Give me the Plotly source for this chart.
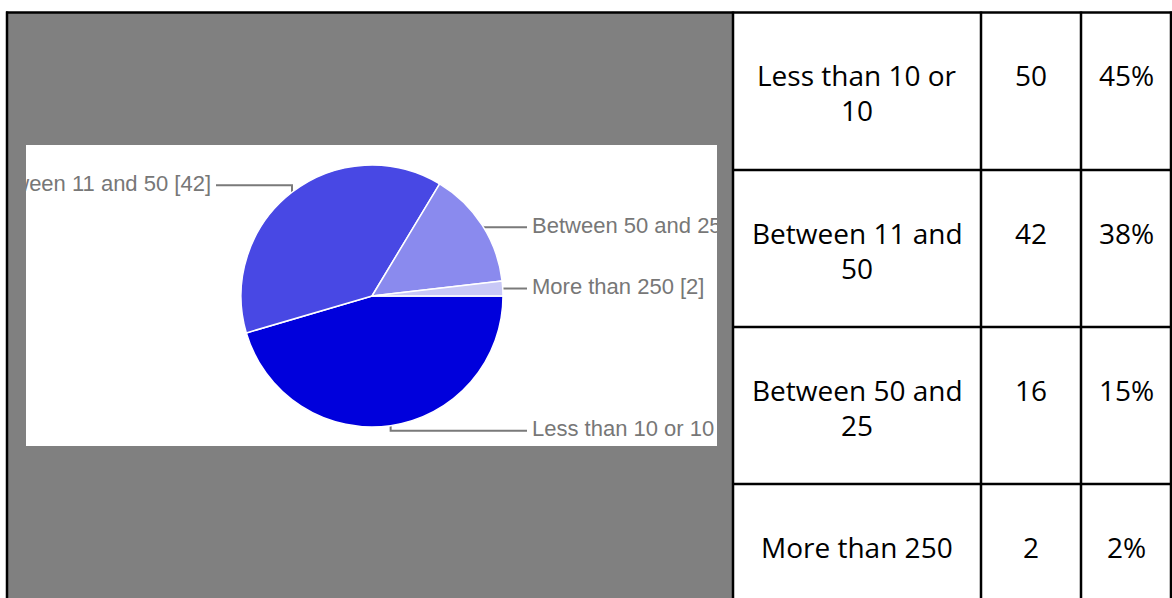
import math
import plotly.graph_objects as go

# ---------------- data ----------------
pie_labels = ["Less than 10 or 10 [50]", "Between 11 and 50 [42]",
              "Between 50 and 250 [16]", "More than 250 [2]"]
pie_values = [50, 42, 16, 2]
table_labels = ["Less than 10 or<br>10", "Between 11 and<br>50",
                "Between 50 and<br>25", "More than 250"]
table_counts = [50, 42, 16, 2]
table_pcts = [f"{round(v / sum(table_counts) * 100)}%" for v in table_counts]

# ---------------- styling / layout ----------------
W, H = 1172, 598
colors = ["#0000DC", "#4848E4", "#8A8AEE", "#C8C8F6"]
CX, CY, R = 372, 296, 131               # pie centre / radius (px)
BOX = (26, 145, 717, 446)               # white chart area (x0, y0, x1, y1) px
label_nudge = [5, -7, 2, 0]             # vertical label offsets (px)
RIGHT_END, LEFT_END, GAP = CX + 155, CX - 156, 5
label_color = "#777777"
line_color = "#7a7a7a"

col_edges = [733, 981, 1081, 1171]
row_edges = [12, 170, 327, 484, 641]
first_line_offset = 63
line_step = 35
table_font = dict(family="Open Sans, Carlito, Calibri, sans-serif", size=28, color="#000000")


def px(x):
    return x / W


def py(y):
    return 1 - y / H


fig = go.Figure()

# pie
fig.add_trace(go.Pie(
    labels=pie_labels, values=pie_values, sort=False, direction="clockwise",
    rotation=90, textinfo="none", hoverinfo="skip", showlegend=False,
    marker=dict(colors=colors, line=dict(color="white", width=1.5)),
    domain=dict(x=[px(CX - R), px(CX + R)], y=[py(CY + R), py(CY - R)]),
))

# leader lines + labels, placed from slice mid-angles
total = sum(pie_values)
cum = 0
for i, (lab, v) in enumerate(zip(pie_labels, pie_values)):
    a = 2 * math.pi * (cum + v / 2) / total
    cum += v
    ax_, ay_ = CX + R * math.cos(a), CY + R * math.sin(a)
    ly = ay_ + label_nudge[i]
    right = math.cos(a) >= 0
    ex = RIGHT_END if right else LEFT_END
    fig.add_trace(go.Scatter(
        x=[ax_, ax_, ex], y=[ay_, ly, ly], mode="lines",
        line=dict(color=line_color, width=2), hoverinfo="skip", showlegend=False,
    ))
    fig.add_trace(go.Scatter(
        x=[ex + GAP if right else ex - GAP], y=[ly], mode="text", text=[lab],
        textposition="middle right" if right else "middle left",
        textfont=dict(family="Liberation Sans, Arial, sans-serif", size=22, color=label_color),
        cliponaxis=True, hoverinfo="skip", showlegend=False,
    ))

# table text
annotations = []
for r, (lab, cnt, pct) in enumerate(zip(table_labels, table_counts, table_pcts)):
    top = row_edges[r]
    cells = [lab, str(cnt), pct]
    for c, txt in enumerate(cells):
        xc = (col_edges[c] + col_edges[c + 1]) / 2
        for k, line in enumerate(txt.split("<br>")):
            annotations.append(dict(
                x=px(xc), y=py(top + first_line_offset + k * line_step),
                xref="paper", yref="paper", text=line, showarrow=False,
                xanchor="center", yanchor="middle", font=table_font,
            ))

shapes = [
    dict(type="rect", xref="paper", yref="paper", x0=px(7), x1=px(733), y0=py(H + 5), y1=py(12),
         fillcolor="#808080", line=dict(width=0), layer="below"),
    dict(type="rect", xref="paper", yref="paper", x0=px(BOX[0]), x1=px(BOX[2]), y0=py(BOX[3]), y1=py(BOX[1]),
         fillcolor="#ffffff", line=dict(width=0), layer="below"),
]
lw = 2.5
# outer top line
shapes.append(dict(type="line", xref="paper", yref="paper", x0=px(6), x1=px(1172), y0=py(12.5), y1=py(12.5),
                   line=dict(color="black", width=lw), layer="above"))
for y in row_edges[1:4]:
    shapes.append(dict(type="line", xref="paper", yref="paper", x0=px(733), x1=px(1172), y0=py(y), y1=py(y),
                       line=dict(color="black", width=lw), layer="above"))
for x in [7] + col_edges:
    shapes.append(dict(type="line", xref="paper", yref="paper", x0=px(x), x1=px(x), y0=py(11.5), y1=py(H + 5),
                       line=dict(color="black", width=lw), layer="above"))

fig.update_layout(
    width=W, height=H, margin=dict(l=0, r=0, t=0, b=0),
    paper_bgcolor="white", plot_bgcolor="rgba(0,0,0,0)",
    xaxis=dict(domain=[px(BOX[0]), px(BOX[2])], range=[BOX[0], BOX[2]], visible=False, fixedrange=True),
    yaxis=dict(domain=[py(BOX[3]), py(BOX[1])], range=[BOX[3], BOX[1]], visible=False, fixedrange=True),
    shapes=shapes, annotations=annotations, showlegend=False,
)

fig.write_html("out.html", config={"displayModeBar": False})
